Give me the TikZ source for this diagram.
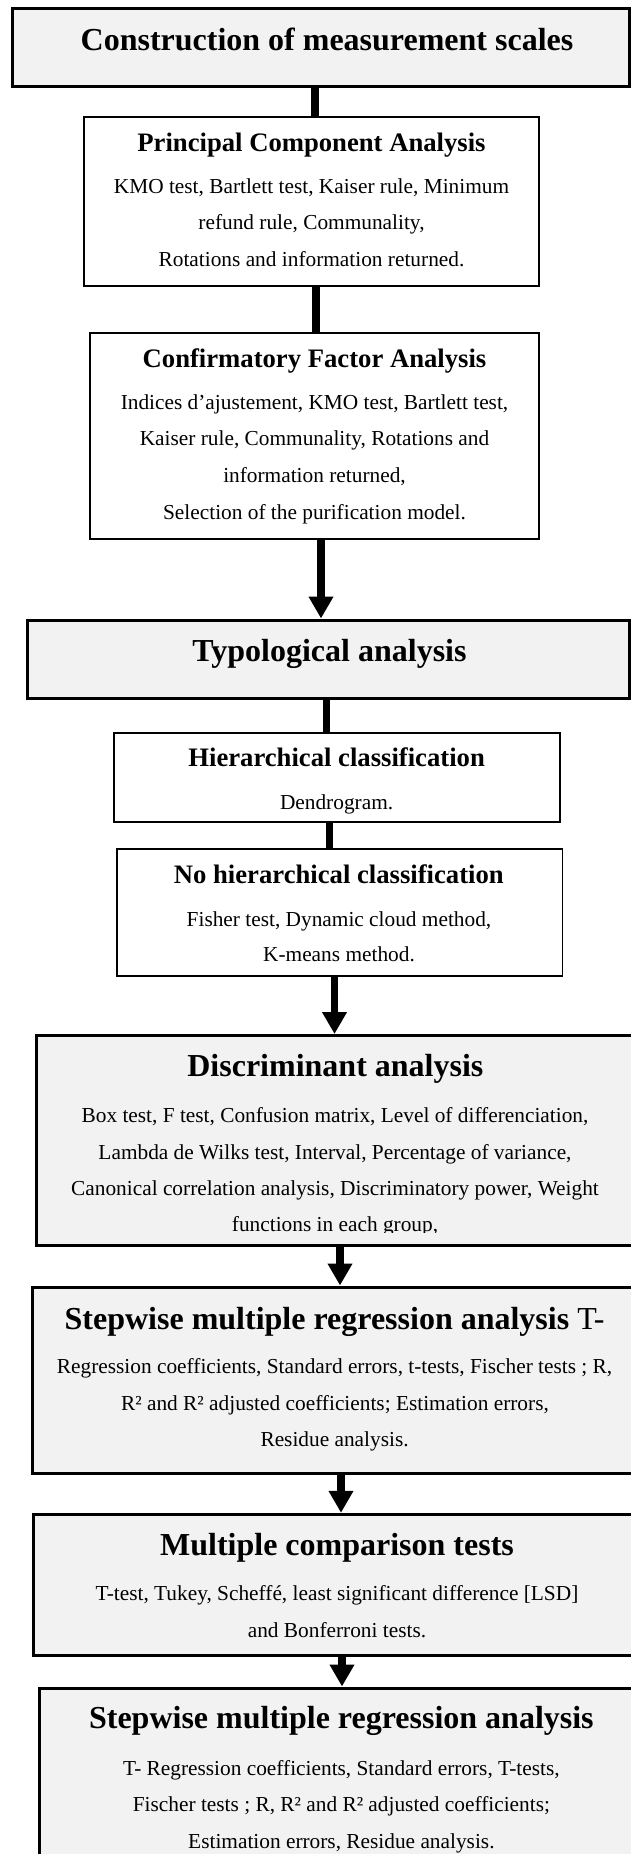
\documentclass[tikz,border=0pt]{standalone}
\usepackage{fontspec}
\setmainfont{Liberation Serif}
\usetikzlibrary{arrows.meta,fit}
\definecolor{boxgray}{RGB}{242,242,242}
\tikzset{
  graybox/.style={draw=black, line width=2.25pt, fill=boxgray, inner sep=0pt, rectangle},
  whitebox/.style={draw=black, line width=1.35pt, fill=white, inner sep=0pt, rectangle},
  conn/.style={line width=5.5pt, draw=black},
  arr/.style={conn, -{Triangle[width=17.6pt,length=16.5pt]}},
  bighead/.style={font=\fontsize{24}{28}\selectfont\bfseries, anchor=base, inner sep=0pt},
  subhead/.style={font=\fontsize{20}{24}\selectfont\bfseries, anchor=base, inner sep=0pt},
  body/.style={font=\fontsize{16}{19}\selectfont, anchor=base, inner sep=0pt}
}
\begin{document}
\begin{tikzpicture}[x=0.75pt,y=-0.75pt]
\useasboundingbox (0,0) rectangle (631,1854);
\clip (0,0) rectangle (631,1854);
% boxes
\node[graybox, fit={(12.5,8.5)(629.5,86.5)}] (b1) {};
\node[whitebox, fit={(84.3,117)(539,285.7)}] (b2) {};
\node[whitebox, fit={(90.3,332.7)(539,539)}] (b3) {};
\node[graybox, fit={(27.7,620)(629.5,698)}] (b4) {};
\node[whitebox, fit={(113.7,733.3)(559.6,821.7)}] (b5) {};
\node[whitebox, fit={(116.9,848.7)(562.4,976.3)}] (b6) {};
\node[graybox, fit={(36.5,1035.5)(640,1245.2)}] (b7) {};
\node[graybox, fit={(32.9,1287)(640,1473.5)}] (b8) {};
\node[graybox, fit={(33.7,1514.3)(642,1655)}] (b9) {};
\node[graybox, fit={(39.7,1688)(645,1875)}] (b10) {};
% connectors
\draw[conn] (b1.south -| 315,0) -- (b2.north -| 315,0);
\draw[conn] (b2.south -| 316,0) -- (b3.north -| 316,0);
\draw[arr] (b3.south -| 321,0) -- (b4.north -| 321,0);
\draw[conn] (b4.south -| 326.5,0) -- (b5.north -| 326.5,0);
\draw[conn] (b5.south -| 329.5,0) -- (b6.north -| 329.5,0);
\draw[arr] (b6.south -| 334.5,0) -- (b7.north -| 334.5,0);
\draw[arr] (b7.south -| 340,0) -- (b8.north -| 340,0);
\draw[arr] (b8.south -| 341,0) -- (b9.north -| 341,0);
\draw[arr] (b9.south -| 342,0) -- (b10.north -| 342,0);
% texts
\node[bighead] (t1) at (327,50) {Construction of measurement scales};

\node[subhead] (t2) at (311.5,151.7) {Principal Component Analysis};
\node[body] (t2a) at (311.5,193.3) {KMO test, Bartlett test, Kaiser rule, Minimum};
\node[body] (t2b) at (311.5,229.3) {refund rule, Communality,};
\node[body] (t2c) at (311.5,266) {Rotations and information returned.};

\node[subhead] (t3) at (314.5,367.7) {Confirmatory Factor Analysis};
\node[body] (t3a) at (314.5,409.3) {Indices d’ajustement, KMO test, Bartlett test,};
\node[body] (t3b) at (314.5,445.7) {Kaiser rule, Communality, Rotations and};
\node[body] (t3c) at (314.5,482.3) {information returned,};
\node[body] (t3d) at (314.5,519) {Selection of the purification model.};

\node[bighead] (t4) at (329.5,661) {Typological analysis};

\node[subhead] (t5) at (336.6,766.7) {Hierarchical classification};
\node[body] (t5a) at (336.6,809.3) {Dendrogram.};

\node[subhead] (t6) at (338.8,883.3) {No hierarchical classification};
\node[body] (t6a) at (339,926) {Fisher test, Dynamic cloud method,};
\node[body] (t6b) at (339,961.7) {K-means method.};

\node[bighead] (t7) at (335.4,1076) {Discriminant analysis};
\node[body] (t7a) at (335,1122.7) {Box test, F test, Confusion matrix, Level of differenciation,};
\node[body] (t7b) at (335,1159.3) {Lambda de Wilks test, Interval, Percentage of variance,};
\node[body] (t7c) at (335,1195) {Canonical correlation analysis, Discriminatory power, Weight};
\begin{scope}
\clip (0,1200) rectangle (631,1232.5);
\node[body] (t7d) at (335,1231.7) {functions in each group,};
\end{scope}

\node[bighead] (t8) at (334.6,1329.3) {Stepwise multiple regression analysis {\normalfont T-}};
\node[body] (t8a) at (334.6,1373.3) {Regression coefficients, Standard errors, t-tests, Fischer tests ; R,};
\node[body] (t8b) at (335,1410) {R² and R² adjusted coefficients; Estimation errors,};
\node[body] (t8c) at (334.6,1446.7) {Residue analysis.};

\node[bighead] (t9) at (337,1555) {Multiple comparison tests};
\node[body] (t9a) at (337,1600.7) {T-test, Tukey, Scheffé, least significant difference [LSD]};
\node[body] (t9b) at (337,1637.3) {and Bonferroni tests.};

\node[bighead] (t10) at (341.4,1728.3) {Stepwise multiple regression analysis};
\node[body] (t10a) at (341.4,1775) {T- Regression coefficients, Standard errors, T-tests,};
\node[body] (t10b) at (341.4,1811.7) {Fischer tests ; R, R² and R² adjusted coefficients;};
\node[body] (t10c) at (341.4,1848.3) {Estimation errors, Residue analysis.};
\end{tikzpicture}
\end{document}
